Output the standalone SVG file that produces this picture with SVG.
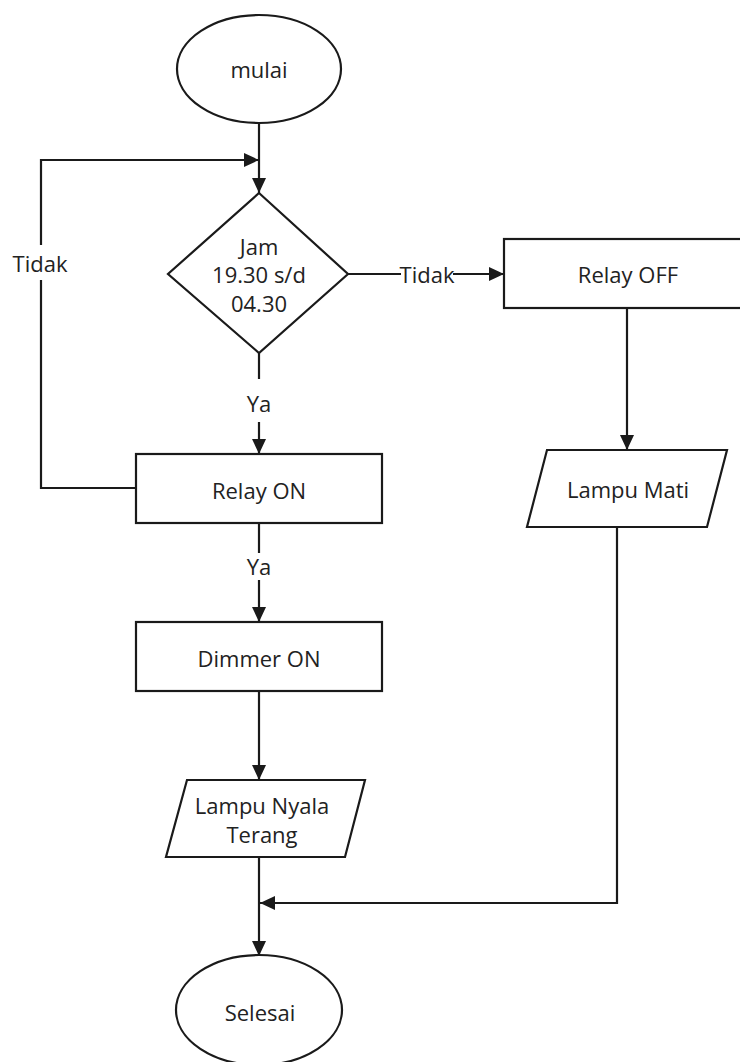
<svg xmlns="http://www.w3.org/2000/svg" width="740" height="1062" viewBox="0 0 740 1062">
<style>
.shape{fill:#ffffff;stroke:#1a1a1a;stroke-width:2.2}
.conn{fill:none;stroke:#1a1a1a;stroke-width:2.2}
text{font-family:"Open Sans","Liberation Sans",sans-serif;font-size:22px;fill:#222222;text-anchor:middle}
</style>
<defs>
<marker id="arr" markerUnits="userSpaceOnUse" markerWidth="16" markerHeight="16" viewBox="0 0 16 16" refX="15" refY="8" orient="auto">
<path d="M0,1 L15,8 L0,15 Z" fill="#1a1a1a"/>
</marker>
</defs>
<rect width="740" height="1062" fill="#ffffff"/>
<g id="connectors">
<path class="conn" d="M259,123 V193" marker-end="url(#arr)"/>
<path class="conn" d="M136,488 H41 V280"/>
<path class="conn" d="M41,245 V160 H259" marker-end="url(#arr)"/>
<path class="conn" d="M259,353 V379"/>
<path class="conn" d="M259,422 V454" marker-end="url(#arr)"/>
<path class="conn" d="M348,274 H401"/>
<path class="conn" d="M453,274 H504" marker-end="url(#arr)"/>
<path class="conn" d="M627,308 V450" marker-end="url(#arr)"/>
<path class="conn" d="M259,523 V553"/>
<path class="conn" d="M259,580 V622" marker-end="url(#arr)"/>
<path class="conn" d="M259,691 V780" marker-end="url(#arr)"/>
<path class="conn" d="M259,857 V956" marker-end="url(#arr)"/>
<path class="conn" d="M617,527 V903 H260" marker-end="url(#arr)"/>
<text x="40" y="272">Tidak</text>
<text x="427" y="283">Tidak</text>
<text x="259" y="412">Ya</text>
<text x="259" y="575">Ya</text>
</g>
<g id="mulai">
<ellipse class="shape" cx="259" cy="69" rx="82" ry="54"/>
<text x="259" y="78">mulai</text>
</g>
<g id="decision">
<polygon class="shape" points="259,193 348,274 259,353 168,274"/>
<text x="259" y="255">Jam</text>
<text x="259" y="283">19.30 s/d</text>
<text x="259" y="312">04.30</text>
</g>
<g id="relay-off">
<rect class="shape" x="504" y="239" width="248" height="69"/>
<text x="628" y="283">Relay OFF</text>
</g>
<g id="lampu-mati">
<polygon class="shape" points="547,450 727,450 707,527 527,527"/>
<text x="628" y="498">Lampu Mati</text>
</g>
<g id="relay-on">
<rect class="shape" x="136" y="454" width="246" height="69"/>
<text x="259" y="499">Relay ON</text>
</g>
<g id="dimmer-on">
<rect class="shape" x="136" y="622" width="246" height="69"/>
<text x="259" y="667">Dimmer ON</text>
</g>
<g id="lampu-nyala">
<polygon class="shape" points="187,780 365,780 345,857 166,857"/>
<text x="262" y="814">Lampu Nyala</text>
<text x="262" y="843">Terang</text>
</g>
<g id="selesai">
<ellipse class="shape" cx="259" cy="1010" rx="83" ry="55"/>
<text x="260" y="1021">Selesai</text>
</g>
</svg>
